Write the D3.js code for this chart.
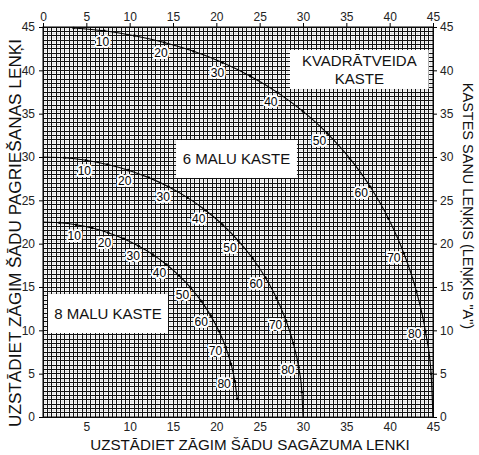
<!DOCTYPE html>
<html>
<head>
<meta charset="utf-8">
<script src="https://cdn.jsdelivr.net/npm/d3@7"></script>
<style>
  html, body { margin: 0; padding: 0; background: #fff; }
  svg { display: block; font-family: "Liberation Sans", Arial, sans-serif; }
</style>
</head>
<body>
<svg id="chart" width="479" height="455"></svg>
<script>
// Box side angle (degrees) for each plotted point
const squareSide = [5,10,15,20,25,30,35,40,45,50,55,60,65,70,75,80,85,90];
const squareBevel = [3.53,7.05,10.55,14.0,17.39,20.70,23.93,27.03,30.0,32.80,35.40,37.76,39.86,41.64,43.08,44.13,44.78,45.0];
const squareMiter = [44.89,44.56,44.0,43.22,42.19,40.89,39.32,37.46,35.26,32.73,29.84,26.57,22.91,18.88,14.51,9.85,4.98,0];

const hexSide = [0,5,10,15,20,25,30,35,40,45,50,55,60,65,70,75,80,85,90];
const hexBevel = [0,2.50,4.98,7.44,9.85,12.20,14.48,16.67,18.75,20.70,22.52,24.18,25.66,26.95,28.02,28.88,29.50,29.87,30.0];
const hexMiter = [30,29.91,29.62,29.14,28.48,27.62,26.57,25.31,23.86,22.21,20.36,18.32,16.10,13.71,11.17,8.50,5.73,2.88,0];

const octSide = [0,5,10,15,20,25,30,35,40,45,50,55,60,65,70,75,80,85];
const octBevel = [0,1.91,3.81,5.68,7.52,9.31,11.03,12.68,14.24,15.70,17.05,18.27,19.35,20.29,21.08,21.69,22.14,22.41];
const octMiter = [22.5,22.42,22.19,21.81,21.27,20.57,19.73,18.74,17.60,16.32,14.91,13.37,11.70,9.93,8.06,6.12,4.11,2.07];

const labelledSides = [10,20,30,40,50,60,70,80];

const topTicks = [0,5,10,15,20,25,30,35,40,45];
const bottomTicks = [5,10,15,20,25,30,35,40,45];
const yTicks = [0,5,10,15,20,25,30,35,40,45];

const xTitle = "UZSTĀDIET ZĀGIM ŠĀDU SAGĀZUMA LENKI";
const yTitle = "UZSTĀDIET ZĀGIM ŠĀDU PAGRIEŠANAS LENĶI";
const rightTitle = "KASTES SANU LEŅĶIS (LEŅĶIS \"A\")";

const boxNames = [
  { lines: ["KVADRĀTVEIDA", "KASTE"], x0: 28.5, x1: 44.5, y0: 37.85, y1: 42.35 },
  { lines: ["6 MALU KASTE"], x0: 15.35, x1: 29.3, y0: 27.58, y1: 31.96 },
  { lines: ["8 MALU KASTE"], x0: 0.58, x1: 14.42, y0: 9.69, y1: 14.19 }
];

const series = [
  { side: squareSide, bevel: squareBevel, miter: squareMiter },
  { side: hexSide, bevel: hexBevel, miter: hexMiter },
  { side: octSide, bevel: octBevel, miter: octMiter }
];

const svg = d3.select("#chart");
const L = 43, R = 433, T = 27, B = 417;
const x = d3.scaleLinear().domain([0, 45]).range([L, R]);
const y = d3.scaleLinear().domain([0, 45]).range([B, T]);

// fine grid: light quarter-degree lines, dark half-degree lines
const grid = svg.append("g");
const fine = d3.range(0.25, 45, 0.5);
const coarse = d3.range(0, 45.01, 0.5);
grid.selectAll("line.fv").data(fine).join("line")
  .attr("x1", d => x(d)).attr("x2", d => x(d)).attr("y1", T).attr("y2", B)
  .attr("stroke", "#d2d2d2").attr("stroke-width", 0.6);
grid.selectAll("line.fh").data(fine).join("line")
  .attr("y1", d => y(d)).attr("y2", d => y(d)).attr("x1", L).attr("x2", R)
  .attr("stroke", "#d2d2d2").attr("stroke-width", 0.6);
const cg = grid.append("g").attr("shape-rendering", "crispEdges");
cg.selectAll("line.cv").data(coarse).join("line")
  .attr("x1", d => x(d)).attr("x2", d => x(d)).attr("y1", T).attr("y2", B)
  .attr("stroke", "#111").attr("stroke-width", 1);
cg.selectAll("line.ch").data(coarse).join("line")
  .attr("y1", d => y(d)).attr("y2", d => y(d)).attr("x1", L).attr("x2", R)
  .attr("stroke", "#111").attr("stroke-width", 1);

// frame
svg.append("rect").attr("x", L).attr("y", T).attr("width", R - L).attr("height", B - T)
  .attr("fill", "none").attr("stroke", "#000").attr("stroke-width", 1);

// axes
const axisFont = g => g.call(s => s.select(".domain").remove())
  .selectAll("text").attr("font-size", 12).attr("fill", "#222")
  .attr("font-family", "Liberation Sans, Arial, sans-serif");
svg.append("g").attr("transform", `translate(0,${T})`)
  .call(d3.axisTop(x).tickValues(topTicks).tickSize(4).tickPadding(2)).call(axisFont);
svg.append("g").attr("transform", `translate(0,${B})`)
  .call(d3.axisBottom(x).tickValues(bottomTicks).tickSize(0).tickPadding(5)).call(axisFont);
svg.append("g").attr("transform", `translate(${L},0)`)
  .call(d3.axisLeft(y).tickValues(yTicks).tickSize(4).tickPadding(4)).call(axisFont);
svg.append("g").attr("transform", `translate(${R},0)`)
  .call(d3.axisRight(y).tickValues(yTicks).tickSize(4).tickPadding(3)).call(axisFont);

// name boxes
boxNames.forEach(b => {
  svg.append("rect").attr("x", x(b.x0)).attr("y", y(b.y1))
    .attr("width", x(b.x1) - x(b.x0)).attr("height", y(b.y0) - y(b.y1)).attr("fill", "#fff");
  const cx = (x(b.x0) + x(b.x1)) / 2;
  const cy = (y(b.y0) + y(b.y1)) / 2;
  const lh = 18;
  b.lines.forEach((t, i) => {
    svg.append("text").attr("x", cx)
      .attr("y", cy + (i - (b.lines.length - 1) / 2) * lh)
      .attr("dy", "0.36em").attr("text-anchor", "middle")
      .attr("font-size", 15).attr("fill", "#111").text(t);
  });
});

// curves
const line = d3.line().x(d => x(d.b)).y(d => y(d.m)).curve(d3.curveMonotoneX);
series.forEach(s => {
  const pts = s.side.map((a, i) => ({ a, b: s.bevel[i], m: s.miter[i] }));
  svg.append("path").datum(pts).attr("d", line)
    .attr("fill", "none").attr("stroke", "#000").attr("stroke-width", 1.1);
  svg.append("g").selectAll("circle").data(pts.filter(p => p.a > 0 && p.a < 90)).join("circle")
    .attr("cx", d => x(d.b)).attr("cy", d => y(d.m)).attr("r", 1.3).attr("fill", "#000");
  // side-angle labels, set inward from the curve toward the origin
  const ox = x(0), oy = y(0);
  const lab = svg.append("g").selectAll("g").data(pts.filter(p => labelledSides.includes(p.a))).join("g")
    .attr("transform", d => {
      const px = x(d.b), py = y(d.m);
      const dx = ox - px, dy = oy - py, len = Math.hypot(dx, dy);
      return `translate(${px + dx / len * 11},${py + dy / len * 11})`;
    });
  lab.append("text").attr("dy", "0.36em").attr("text-anchor", "middle")
    .attr("font-size", 12).attr("fill", "none")
    .attr("stroke", "#fff").attr("stroke-width", 4).attr("stroke-linejoin", "round")
    .text(d => d.a);
  lab.append("text").attr("dy", "0.36em").attr("text-anchor", "middle")
    .attr("font-size", 12).attr("fill", "#000")
    .text(d => d.a);
});

// axis titles
svg.append("text").attr("x", 250).attr("y", 450).attr("text-anchor", "middle")
  .attr("font-size", 15.2).attr("fill", "#111").text(xTitle);
svg.append("text").attr("transform", `translate(15,233) rotate(-90)`)
  .attr("text-anchor", "middle").attr("dy", "0.36em")
  .attr("font-size", 17.2).attr("fill", "#111").text(yTitle);
svg.append("text").attr("transform", `translate(468,${(T + B) / 2 - 16}) rotate(90)`)
  .attr("text-anchor", "middle").attr("dy", "0.36em")
  .attr("font-size", 14.5).attr("fill", "#111").text(rightTitle);
</script>
</body>
</html>
